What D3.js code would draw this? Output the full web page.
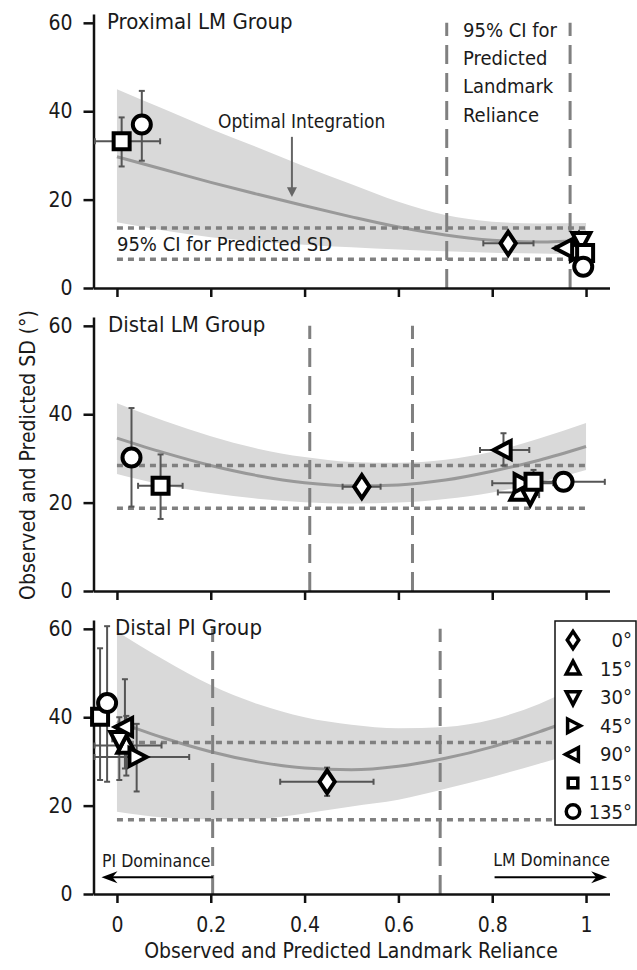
<!DOCTYPE html>
<html lang="en">
<head>
<meta charset="UTF-8">
<title>Observed and Predicted SD vs Landmark Reliance</title>
<script src="https://d3js.org/d3.v7.min.js"></script>
<style>
  body { margin: 0; background: #fff; }
  svg text { font-family: "DejaVu Sans Condensed", "Liberation Sans Narrow", sans-serif; fill: #1a1a1a; }
  .axis path, .axis line { stroke: #111; stroke-width: 2.5; }
</style>
</head>
<body>
<div id="chart"></div>
<script>
// ---- values ----
var wGrid = [0, 0.1, 0.2, 0.3, 0.4, 0.5, 0.6, 0.7, 0.8, 0.9, 1];
var angles = ["0°", "15°", "30°", "45°", "90°", "115°", "135°"];
var shapes = ["diamond", "up", "down", "right", "left", "square", "circle"];
var xTicks = [0, 0.2, 0.4, 0.6, 0.8, 1];
var yTicks = [0, 20, 40, 60];

// Proximal LM group
var proxCurve  = [29.7, 26.8, 23.9, 21.2, 18.6, 16.1, 13.8, 12.0, 10.8, 10.4, 10.8];
var proxBandHi = [45.0, 40.5, 36.0, 31.8, 27.5, 23.5, 19.5, 16.5, 15.0, 14.6, 14.7];
var proxBandLo = [14.9, 13.0, 11.5, 10.5, 9.8, 9.2, 8.7, 8.3, 8.0, 7.8, 7.6];
var proxSdCI  = [6.5, 13.6];
var proxRelCI = [0.703, 0.966];
// observed: [reliance, sd, relLo, relHi, sdLo, sdHi], one row per angle (0°..135°)
var proxObs = [
  [0.834, 10.1, 0.781, 0.888, 9.4, 10.8],
  [0.985, 10.1, 0.975, 0.995, 9.6, 10.6],
  [0.990, 10.8, 0.980, 1.000, 10.3, 11.3],
  [0.983, 8.2, 0.975, 0.990, 7.8, 8.6],
  [0.955, 9.0, 0.935, 0.975, 8.6, 9.4],
  [0.010, 33.2, -0.047, 0.092, 27.5, 38.6],
  [0.053, 37.0, 0.045, 0.060, 28.8, 44.6]
];
var proxShapes = [0, 1, 2, 3, 4, 5, 6];
// the 115° and 135° markers also sit in the right-hand cluster
var proxExtra = [
  [0.998, 7.9, 0.990, 1.005, 7.4, 8.4],
  [0.994, 4.8, 0.985, 1.003, 4.4, 5.2]
];
var proxExtraShapes = [5, 6];

// Distal LM group
var distCurve  = [34.6, 31.3, 28.4, 26.1, 24.5, 23.8, 24.0, 25.1, 27.1, 29.6, 32.7];
var distBandHi = [42.5, 38.5, 35.0, 32.2, 30.3, 29.2, 29.0, 29.7, 31.5, 34.5, 38.0];
var distBandLo = [26.5, 24.0, 22.2, 20.9, 20.1, 19.8, 20.0, 20.8, 22.3, 24.6, 27.4];
var distSdCI  = [18.7, 28.4];
var distRelCI = [0.411, 0.630];
var distObs = [
  [0.522, 23.6, 0.481, 0.562, 22.9, 24.3],
  [0.858, 22.3, 0.812, 0.874, 21.6, 23.0],
  [0.881, 21.7, 0.860, 0.900, 21.0, 22.4],
  [0.863, 24.4, 0.800, 0.930, 23.8, 25.0],
  [0.824, 31.9, 0.774, 0.879, 28.4, 35.7],
  [0.888, 24.7, 0.870, 0.905, 22.0, 27.4],
  [0.952, 24.7, 0.862, 1.040, 24.1, 25.3]
];
var distShapes = [0, 1, 2, 3, 4, 5, 6];
var distExtra = [
  [0.093, 23.8, 0.045, 0.140, 16.3, 30.9],
  [0.031, 30.2, 0.025, 0.037, 19.1, 41.4]
];
var distExtraShapes = [5, 6];

// Distal PI group
var piCurve  = [39.0, 35.3, 32.2, 29.9, 28.5, 28.1, 28.9, 30.7, 33.3, 36.7, 40.5];
var piBandHi = [59.4, 53.0, 47.3, 43.0, 40.0, 38.3, 37.5, 37.8, 39.5, 43.0, 48.0];
var piBandLo = [18.6, 17.3, 16.9, 17.0, 18.2, 19.8, 21.3, 23.8, 26.5, 29.5, 32.5];
var piSdCI  = [16.8, 34.3];
var piRelCI = [0.204, 0.689];
var piObs = [
  [0.448, 25.4, 0.348, 0.547, 22.2, 28.6],
  [0.020, 33.6, -0.048, 0.095, 26.8, 40.3],
  [0.005, 35.0, -0.010, 0.020, 25.8, 40.0],
  [0.042, 31.0, -0.048, 0.154, 23.2, 38.5],
  [0.017, 37.8, 0.000, 0.035, 28.4, 48.6],
  [-0.036, 40.1, -0.045, -0.027, 25.8, 55.6],
  [-0.021, 43.2, -0.030, -0.012, 25.4, 60.6]
];
var piShapes = [0, 1, 2, 3, 4, 5, 6];
var piArrow = [0.205, -0.033];
var lmArrow = [0.805, 1.045];
var arrowSd = 3.8;

// ---- layout ----
var W = 637, H = 970;
var svg = d3.select("#chart").append("svg").attr("width", W).attr("height", H);
var x = d3.scaleLinear().domain([-0.05, 1.05]).range([93.5, 609.5]);

var panels = [
  { title: "Proximal LM Group", titleX: 107, y0: 288, curve: proxCurve, hi: proxBandHi, lo: proxBandLo,
    sdCI: proxSdCI, relCI: proxRelCI, obs: proxObs.slice(0, 5).concat(proxExtra, proxObs.slice(5)),
    shapeIdx: proxShapes.slice(0, 5).concat(proxExtraShapes, proxShapes.slice(5)) },
  { title: "Distal LM Group", titleX: 108, y0: 591, curve: distCurve, hi: distBandHi, lo: distBandLo,
    sdCI: distSdCI, relCI: distRelCI, obs: distObs.concat(distExtra), shapeIdx: distShapes.concat(distExtraShapes) },
  { title: "Distal PI Group", titleX: 115, y0: 894, curve: piCurve, hi: piBandHi, lo: piBandLo,
    sdCI: piSdCI, relCI: piRelCI, obs: piObs, shapeIdx: piShapes, labels: true }
];

function shapePath(type, s) {
  var p = d3.path();
  if (type === "circle") { p.arc(0, 0, s, 0, 2 * Math.PI); p.closePath(); return p.toString(); }
  var pts;
  if (type === "diamond") pts = [[0, -1.35 * s], [0.9 * s, 0], [0, 1.35 * s], [-0.9 * s, 0]];
  else if (type === "square") pts = [[-s, -s], [s, -s], [s, s], [-s, s]];
  else if (type === "up") pts = [[0, -1.1 * s], [s, 0.8 * s], [-s, 0.8 * s]];
  else if (type === "down") pts = [[0, 1.1 * s], [s, -0.8 * s], [-s, -0.8 * s]];
  else if (type === "right") pts = [[1.1 * s, 0], [-0.8 * s, -s], [-0.8 * s, s]];
  else pts = [[-1.1 * s, 0], [0.8 * s, -s], [0.8 * s, s]];
  p.moveTo(pts[0][0], pts[0][1]);
  for (var i = 1; i < pts.length; i++) p.lineTo(pts[i][0], pts[i][1]);
  p.closePath();
  return p.toString();
}
var shapeSize = { circle: 9, square: 8, diamond: 8.5, up: 9, down: 9, right: 9, left: 9 };

panels.forEach(function (P) {
  var y = d3.scaleLinear().domain([0, 62]).range([P.y0, P.y0 - 274]);
  var g = svg.append("g");

  var area = d3.area().x(function (d, i) { return x(wGrid[i]); })
    .y0(function (d, i) { return y(P.lo[i]); }).y1(function (d) { return y(d); })
    .curve(d3.curveMonotoneX);
  g.append("path").attr("d", area(P.hi)).attr("fill", "#d9d9d9");

  var line = d3.line().x(function (d, i) { return x(wGrid[i]); }).y(function (d) { return y(d); })
    .curve(d3.curveMonotoneX);
  g.append("path").attr("d", line(P.curve)).attr("fill", "none").attr("stroke", "#999").attr("stroke-width", 3);

  // predicted SD CI (dotted)
  g.selectAll(".sdci").data(P.sdCI).join("line")
    .attr("x1", x(0)).attr("x2", x(1)).attr("y1", function (d) { return y(d); }).attr("y2", function (d) { return y(d); })
    .attr("stroke", "#808080").attr("stroke-width", 3.5).attr("stroke-dasharray", "6,5");

  // predicted reliance CI (dashed)
  g.selectAll(".relci").data(P.relCI).join("line")
    .attr("x1", function (d) { return x(d); }).attr("x2", function (d) { return x(d); })
    .attr("y1", y(0)).attr("y2", y(60))
    .attr("stroke", "#808080").attr("stroke-width", 3).attr("stroke-dasharray", "19,9");

  // axes
  g.append("g").attr("class", "axis").attr("transform", "translate(0," + y(0) + ")")
    .call(d3.axisBottom(x).tickValues(xTicks).tickSize(9).tickSizeOuter(0)
      .tickFormat(P.labels ? d3.format("") : function () { return ""; }).tickPadding(14))
    .call(function (a) { a.selectAll("text").attr("font-size", 21).attr("fill", "#1a1a1a"); });
  g.append("g").attr("class", "axis").attr("transform", "translate(" + x(-0.05) + ",0)")
    .call(d3.axisLeft(y).tickValues(yTicks).tickSize(10).tickSizeOuter(0).tickPadding(11))
    .call(function (a) { a.selectAll("text").attr("font-size", 21).attr("fill", "#1a1a1a"); });

  // error bars
  var eb = g.append("g").attr("stroke", "#555").attr("stroke-width", 2).attr("fill", "none");
  P.obs.forEach(function (o) {
    var cx = x(o[0]), cy = y(o[1]);
    eb.append("line").attr("x1", x(o[2])).attr("x2", x(o[3])).attr("y1", cy).attr("y2", cy);
    eb.append("line").attr("x1", x(o[2])).attr("x2", x(o[2])).attr("y1", cy - 3).attr("y2", cy + 3);
    eb.append("line").attr("x1", x(o[3])).attr("x2", x(o[3])).attr("y1", cy - 3).attr("y2", cy + 3);
    eb.append("line").attr("x1", cx).attr("x2", cx).attr("y1", y(o[4])).attr("y2", y(o[5]));
    eb.append("line").attr("x1", cx - 3).attr("x2", cx + 3).attr("y1", y(o[4])).attr("y2", y(o[4]));
    eb.append("line").attr("x1", cx - 3).attr("x2", cx + 3).attr("y1", y(o[5])).attr("y2", y(o[5]));
  });

  // markers
  P.obs.forEach(function (o, i) {
    var t = shapes[P.shapeIdx[i]];
    g.append("path").attr("d", shapePath(t, shapeSize[t]))
      .attr("transform", "translate(" + x(o[0]) + "," + y(o[1]) + ")")
      .attr("fill", "#fff").attr("stroke", "#000").attr("stroke-width", 4).attr("stroke-linejoin", "miter");
  });

  g.append("text").attr("x", P.titleX).attr("y", P.y0 - 259).attr("font-size", 22).text(P.title);
  P.yScale = y;
});

// ---- annotations, top panel ----
var yT = panels[0].yScale;
svg.append("text").attr("x", 218).attr("y", 128).attr("font-size", 19).text("Optimal Integration");
svg.append("line").attr("x1", x(0.373)).attr("x2", x(0.373)).attr("y1", yT(34.2)).attr("y2", yT(22.5))
  .attr("stroke", "#666").attr("stroke-width", 2);
svg.append("path").attr("d", "M" + (x(0.373) - 5) + "," + (yT(22.8)) + " L" + (x(0.373) + 5) + "," + yT(22.8) + " L" + x(0.373) + "," + yT(20.6) + " Z")
  .attr("fill", "#666");
svg.append("text").attr("x", x(0)).attr("y", 251).attr("font-size", 20).text("95% CI for Predicted SD");
var ciLines = ["95% CI for", "Predicted", "Landmark", "Reliance"];
svg.append("g").selectAll("text").data(ciLines).join("text")
  .attr("x", 463).attr("y", function (d, i) { return 37 + i * 28.2; }).attr("font-size", 20).text(function (d) { return d; });

// ---- dominance arrows, bottom panel ----
var yB = panels[2].yScale;
function arrow(a) {
  var x1 = x(a[0]), x2 = x(a[1]), yy = yB(arrowSd), dir = x2 > x1 ? 1 : -1;
  svg.append("line").attr("x1", x1).attr("x2", x2 - dir * 8).attr("y1", yy).attr("y2", yy).attr("stroke", "#000").attr("stroke-width", 2);
  svg.append("path").attr("d", "M" + x2 + "," + yy + " L" + (x2 - dir * 16) + "," + (yy - 6) + " L" + (x2 - dir * 11) + "," + yy + " L" + (x2 - dir * 16) + "," + (yy + 6) + " Z")
    .attr("fill", "#000");
}
arrow(piArrow);
arrow(lmArrow);
svg.append("text").attr("x", 102).attr("y", 867).attr("font-size", 17.5).text("PI Dominance");
svg.append("text").attr("x", 610).attr("y", 866).attr("font-size", 17.5).attr("text-anchor", "end").text("LM Dominance");

// ---- legend ----
var lg = svg.append("g");
lg.append("rect").attr("x", 555).attr("y", 621).attr("width", 81).attr("height", 204)
  .attr("fill", "#fff").attr("stroke", "#111").attr("stroke-width", 1.5);
angles.forEach(function (a, i) {
  var yy = 640 + i * 28.6, t = shapes[i];
  lg.append("path").attr("d", shapePath(t, shapeSize[t] * (t === "square" ? 0.6 : 0.75)))
    .attr("transform", "translate(573," + yy + ")")
    .attr("fill", "#fff").attr("stroke", "#000").attr("stroke-width", 3.5);
  lg.append("text").attr("x", 632).attr("y", yy + 7).attr("font-size", 20).attr("text-anchor", "end").text(a);
});

// ---- axis titles ----
svg.append("text").attr("transform", "translate(35,455) rotate(-90)").attr("text-anchor", "middle")
  .attr("font-size", 21).text("Observed and Predicted SD (°)");
svg.append("text").attr("x", 351).attr("y", 958).attr("text-anchor", "middle")
  .attr("font-size", 21).text("Observed and Predicted Landmark Reliance");
</script>
</body>
</html>
